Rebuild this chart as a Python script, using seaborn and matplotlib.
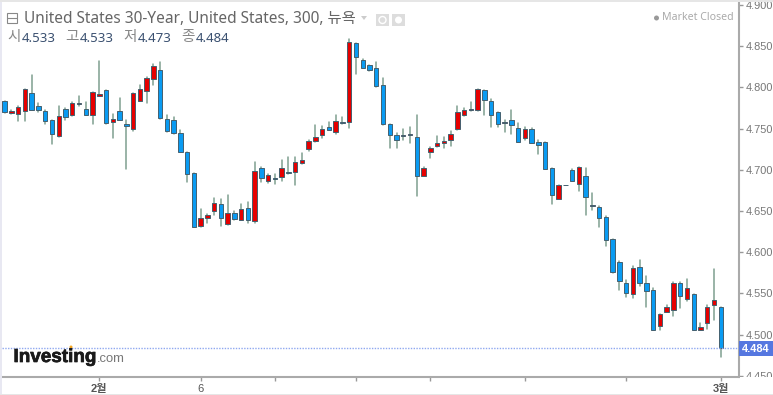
import matplotlib
matplotlib.use('Agg')
import matplotlib.pyplot as plt
import matplotlib.patheffects as pe
from matplotlib.patches import Rectangle, Ellipse, Polygon
import numpy as np
import pandas as pd
import seaborn as sns

# ohlc, one candle per 5 hours
opens = [4.783, 4.769, 4.768, 4.771, 4.793, 4.777, 4.771, 4.760, 4.741, 4.774,
         4.766, 4.780, 4.774, 4.766, 4.789, 4.797, 4.758, 4.771, 4.755, 4.749,
         4.784, 4.796, 4.810, 4.821, 4.762, 4.760, 4.745, 4.721, 4.696, 4.632,
         4.641, 4.650, 4.658, 4.634, 4.648, 4.639, 4.654, 4.638, 4.702, 4.687,
         4.690, 4.691, 4.697, 4.697, 4.708, 4.725, 4.735, 4.742, 4.752, 4.746,
         4.758, 4.758, 4.854, 4.833, 4.827, 4.824, 4.803, 4.755, 4.742, 4.741,
         4.742, 4.740, 4.692, 4.721, 4.729, 4.733, 4.736, 4.749, 4.766, 4.772,
         4.772, 4.797, 4.784, 4.770, 4.757, 4.760, 4.751, 4.738, 4.750, 4.734,
         4.734, 4.702, 4.664, 4.681, 4.700, 4.683, 4.693, 4.656, 4.655, 4.643,
         4.616, 4.588, 4.563, 4.549, 4.582, 4.563, 4.554, 4.510, 4.528, 4.530,
         4.563, 4.543, 4.549, 4.506, 4.514, 4.536, 4.533]
highs = [4.784, 4.772, 4.778, 4.798, 4.815, 4.781, 4.772, 4.761, 4.778, 4.775,
         4.782, 4.790, 4.782, 4.795, 4.832, 4.797, 4.768, 4.787, 4.760, 4.793,
         4.803, 4.813, 4.829, 4.831, 4.767, 4.764, 4.748, 4.722, 4.696, 4.653,
         4.646, 4.666, 4.665, 4.669, 4.650, 4.658, 4.661, 4.709, 4.703, 4.695,
         4.695, 4.712, 4.715, 4.715, 4.720, 4.736, 4.754, 4.753, 4.758, 4.766,
         4.764, 4.859, 4.854, 4.835, 4.827, 4.831, 4.812, 4.756, 4.745, 4.750,
         4.752, 4.766, 4.704, 4.728, 4.741, 4.740, 4.747, 4.777, 4.775, 4.782,
         4.798, 4.797, 4.786, 4.770, 4.760, 4.772, 4.757, 4.752, 4.751, 4.736,
         4.734, 4.702, 4.681, 4.682, 4.701, 4.703, 4.702, 4.672, 4.656, 4.644,
         4.616, 4.589, 4.566, 4.583, 4.591, 4.571, 4.556, 4.525, 4.536, 4.564,
         4.564, 4.568, 4.549, 4.514, 4.536, 4.580, 4.533]
lows = [4.769, 4.768, 4.759, 4.759, 4.773, 4.770, 4.755, 4.731, 4.740, 4.760,
        4.765, 4.778, 4.766, 4.755, 4.789, 4.756, 4.739, 4.760, 4.701, 4.747,
        4.783, 4.781, 4.803, 4.762, 4.746, 4.744, 4.722, 4.685, 4.631, 4.631,
        4.636, 4.645, 4.632, 4.633, 4.639, 4.639, 4.635, 4.635, 4.685, 4.684,
        4.683, 4.687, 4.695, 4.682, 4.707, 4.723, 4.734, 4.739, 4.748, 4.744,
        4.756, 4.751, 4.816, 4.824, 4.820, 4.801, 4.754, 4.726, 4.726, 4.736,
        4.733, 4.668, 4.692, 4.714, 4.728, 4.726, 4.729, 4.748, 4.765, 4.771,
        4.771, 4.766, 4.752, 4.752, 4.746, 4.744, 4.734, 4.736, 4.732, 4.719,
        4.701, 4.659, 4.664, 4.681, 4.686, 4.674, 4.645, 4.651, 4.631, 4.607,
        4.575, 4.554, 4.546, 4.544, 4.559, 4.533, 4.506, 4.506, 4.527, 4.523,
        4.532, 4.541, 4.506, 4.505, 4.507, 4.518, 4.473]
closes = [4.770, 4.771, 4.776, 4.798, 4.773, 4.773, 4.759, 4.744, 4.765, 4.764,
          4.781, 4.781, 4.767, 4.795, 4.792, 4.757, 4.762, 4.761, 4.753, 4.793,
          4.798, 4.812, 4.826, 4.763, 4.747, 4.745, 4.722, 4.695, 4.631, 4.641,
          4.645, 4.660, 4.642, 4.647, 4.640, 4.652, 4.639, 4.699, 4.690, 4.694,
          4.689, 4.702, 4.696, 4.709, 4.712, 4.735, 4.740, 4.750, 4.748, 4.759,
          4.757, 4.855, 4.837, 4.824, 4.821, 4.802, 4.756, 4.742, 4.736, 4.742,
          4.743, 4.693, 4.702, 4.727, 4.733, 4.735, 4.744, 4.770, 4.772, 4.774,
          4.798, 4.785, 4.767, 4.755, 4.758, 4.754, 4.734, 4.750, 4.733, 4.730,
          4.701, 4.669, 4.681, 4.682, 4.686, 4.703, 4.667, 4.657, 4.641, 4.615,
          4.576, 4.565, 4.551, 4.581, 4.563, 4.553, 4.506, 4.525, 4.533, 4.563,
          4.547, 4.556, 4.506, 4.509, 4.533, 4.542, 4.484]

y_ticks = [4.900, 4.850, 4.800, 4.750, 4.700, 4.650, 4.600, 4.550, 4.500, 4.450]
x_ticks = [14, 29, 40, 52, 63, 77, 92, 106]
x_labels = ['2월', '6', '', '', '', '', '', '3월']

title = 'United States 30-Year, United States, 300, 뉴욕'
ohlc_names = ['시', '고', '저', '종']
ohlc_values = ['4.533', '4.533', '4.473', '4.484']
status = 'Market Closed'

W, H = 773, 395
RED = '#e60000'
BLUE = '#0a9bf2'
FONTS = ['Noto Sans', 'Noto Sans CJK KR', 'DejaVu Sans']

df = pd.DataFrame({'i': np.arange(len(opens)), 'o': opens, 'h': highs, 'l': lows, 'c': closes})
df['up'] = df['c'] >= df['o']
df['bottom'] = df[['o', 'c']].min(axis=1)
df['body'] = (df['o'] - df['c']).abs()
wicks = df.melt(id_vars='i', value_vars=['h', 'l'], value_name='price')

sns.set_theme(style='white')
plt.rcParams['font.family'] = ['Liberation Sans', 'Noto Sans CJK KR', 'DejaVu Sans']

fig = plt.figure(figsize=(W / 100, H / 100), dpi=100)
ax = fig.add_axes([2 / W, 1 - 377 / H, 737 / W, 375 / H])

sns.lineplot(data=wicks, x='i', y='price', units='i', estimator=None, sort=False,
             color='#7f9f8f', lw=1.1, legend=False, ax=ax, zorder=1)
for up, col in [(True, RED), (False, BLUE)]:
    part = df[df['up'] == up]
    sns.barplot(data=part, x='i', y='body', bottom=part['bottom'].values, color=col, native_scale=True,
                width=0.66, errorbar=None, edgecolor='#44606f', linewidth=0.7, saturation=1, ax=ax, zorder=2)

ax.set_xlim(-0.4, 108.7)
ax.set_ylim(4.9 - 372 / 824, 4.9 + 3 / 824)
ax.set_xlabel('')
ax.set_ylabel('')

# last price line
ax.axhline(closes[-1], color='#8fa8f0', lw=1, ls=(0, (1, 1)), zorder=3)

ax.yaxis.tick_right()
ax.set_yticks(y_ticks, [f'{t:.3f}' for t in y_ticks])
ax.set_xticks(x_ticks, x_labels)
ax.tick_params(axis='y', length=3, width=1, color='#999999', labelcolor='#777777', labelsize=7.9, pad=2, right=True)
ax.tick_params(axis='x', length=3, width=1, color='#999999', labelcolor='#555555', labelsize=8, pad=2, bottom=True)
for lab in ax.get_xticklabels():
    lab.set_fontweight('bold')
ax.get_xticklabels()[1].set_fontweight('normal')
for s in ['top', 'left']:
    ax.spines[s].set_visible(False)
for s in ['right', 'bottom']:
    ax.spines[s].set_color('#aaaaaa')
    ax.spines[s].set_linewidth(1.5)


def fx(x):
    return x / W


def fy(y):
    return 1 - y / H


def rect(x, y, w, h, **kw):
    fig.add_artist(Rectangle((fx(x), fy(y + h)), w / W, h / H, transform=fig.transFigure, **kw))


def dot(x, y, r, **kw):
    fig.add_artist(Ellipse((fx(x), fy(y)), 2 * r / W, 2 * r / H, transform=fig.transFigure, **kw))


# price tag on the axis
fig.text(fx(756), fy(348.5), ohlc_values[3], color='white', fontsize=7.9, fontweight='bold', ha='center', va='center',
         zorder=6)
rect(739, 341, 34, 15, fc='#5577e0', ec='none', zorder=5)

# hides the bottom of the 4.450 label, frame strips
rect(739.8, 377, 34, 17, fc='white', ec='none', zorder=4)
rect(0, 0, 2, H, fc='#e8e8f2', ec='none', zorder=4)
rect(0, 0, W, 1.5, fc='#e6e6e6', ec='none', zorder=4)
rect(0, 394, W, 1, fc='#e6e6e6', ec='none', zorder=4)

# header
rect(7, 13, 10, 10, fc='none', ec='#888888', lw=0.8)
fig.add_artist(plt.Line2D([fx(7), fx(17)], [fy(18), fy(18)], color='#888888', lw=0.8))
fig.text(fx(24), fy(19), title, family=FONTS, color='#666666', fontsize=11.1, va='center')
fig.add_artist(Polygon([(fx(361), fy(16)), (fx(367), fy(16)), (fx(364), fy(20))], transform=fig.transFigure,
                       fc='#cccccc', ec='none'))
rect(376, 14, 13, 12, fc='#dddddd', ec='none')
rect(392, 14, 13, 12, fc='#dddddd', ec='none')
dot(382.5, 20, 3.5, fc='none', ec='white', lw=1)
dot(398.5, 20, 3.5, fc='white', ec='none')

name_x = [7, 65, 123, 181]
value_x = [22, 80, 138, 196]
for nx, vx, name, val in zip(name_x, value_x, ohlc_names, ohlc_values):
    fig.text(fx(nx), fy(38), name, family=FONTS, color='#888888', fontsize=10.5, va='center')
    fig.text(fx(vx), fy(39), val, family=FONTS, color='#3a5070', fontsize=9.5, va='center')

fig.text(fx(734), fy(18), status, family=FONTS, color='#aaaaaa', fontsize=7.6, va='center', ha='right')
dot(656.5, 18, 2.5, fc='#999999', ec='none')

# logo
logo = fig.text(fx(13.5), fy(362), 'Investing', family='Liberation Sans', fontweight='bold', color='#1a1a1a',
                fontsize=13.6, va='baseline')
logo.set_path_effects([pe.withStroke(linewidth=0.5, foreground='#1a1a1a')])
fig.text(fx(97), fy(362), '.com', family='Liberation Sans', color='#777777', fontsize=9.4, va='baseline')
dot(71, 347, 1.5, fc='#f7a823', ec='none')

plt.savefig('out.png', dpi=100)
